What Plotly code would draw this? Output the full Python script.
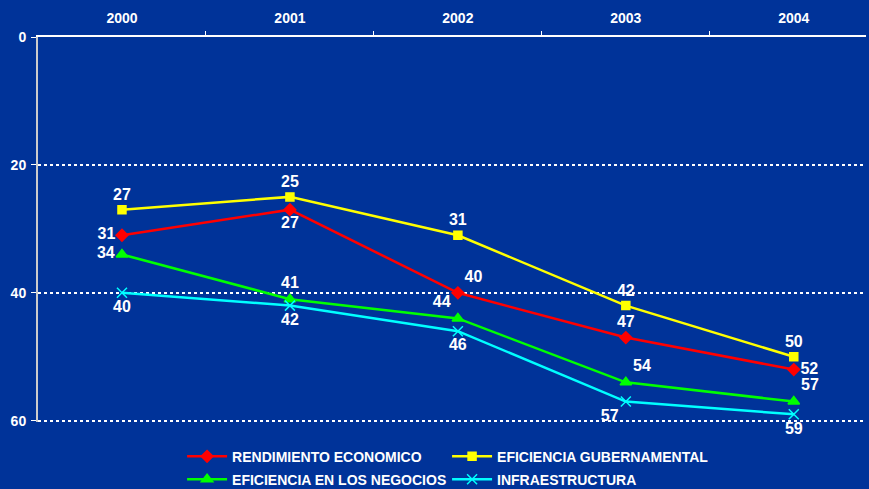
import plotly.graph_objects as go

years = ["2000", "2001", "2002", "2003", "2004"]
rendimiento = [31, 27, 40, 47, 52]
gubernamental = [27, 25, 31, 42, 50]
negocios = [34, 41, 44, 54, 57]
infraestructura = [40, 42, 46, 57, 59]
y_ticks = [0, 20, 40, 60]

xs = list(range(len(years)))
BG = "#003399"
FAM = "Liberation Sans, Arial, sans-serif"
FONT = dict(family=FAM, color="white", size=16, weight="bold")

fig = go.Figure()

def add(name, vals, color, symbol, msize, positions, legend, lw=2.5):
    fig.add_trace(go.Scatter(
        x=xs, y=vals, name=name, mode="lines+markers+text",
        line=dict(color=color, width=lw),
        marker=dict(symbol=symbol, size=msize, color=color, line=dict(color=color, width=1.5)),
        text=[str(v) for v in vals], textposition=positions,
        textfont=FONT, cliponaxis=False, legend=legend,
    ))

add("RENDIMIENTO ECONOMICO", rendimiento, "#FF0000", "diamond", 9,
    ["middle left", "bottom center", "top right", "top center", "middle right"], "legend")
add("EFICIENCIA GUBERNAMENTAL", gubernamental, "#FFFF00", "square", 8,
    ["top center", "top center", "top center", "top center", "top center"], "legend")
add("EFICIENCIA EN LOS NEGOCIOS", negocios, "#00FF00", "triangle-up", 10,
    ["middle left", "top center", "top left", "top right", "top right"], "legend2")
add("INFRAESTRUCTURA", infraestructura, "#00FFFF", "x-thin-open", 10,
    ["bottom center", "bottom center", "bottom center", "bottom left", "bottom center"], "legend2")

leg_common = dict(
    orientation="h", x=0.174, xanchor="left", yref="container", yanchor="middle",
    font=dict(family=FAM, color="white", size=14, weight="bold"),
    entrywidth=210, entrywidthmode="pixels",
    bgcolor="rgba(0,0,0,0)", itemwidth=40,
)

fig.update_layout(
    width=869, height=489,
    paper_bgcolor=BG, plot_bgcolor=BG,
    margin=dict(l=38, r=3, t=37, b=67, autoexpand=False),
    showlegend=True,
    legend=dict(**leg_common, y=0.066),
    legend2=dict(**leg_common, y=0.019),
    font=dict(family=FAM, color="white"),
)

fig.update_xaxes(
    side="top", range=[-0.5, 4.43],
    tickmode="array", tickvals=xs, ticktext=years,
    ticks="", showgrid=False, zeroline=False,
    showline=True, linecolor="white", linewidth=2,
    ticklabelstandoff=6,
    tickfont=dict(family=FAM, color="white", size=14, weight="bold"),
    minor=dict(tickmode="array", tickvals=[0.5, 1.5, 2.5, 3.5], ticks="outside", ticklen=4,
               tickcolor="white", tickwidth=1, showgrid=False),
)

fig.update_yaxes(
    range=[60.2, 0], tickmode="array", tickvals=y_ticks,
    ticks="outside", ticklen=5, tickcolor="white", tickwidth=1,
    showgrid=True, gridcolor="white", griddash="dot", gridwidth=2,
    zeroline=False, showline=True, linecolor="#CCCCCC", linewidth=2,
    ticklabelstandoff=2,
    tickfont=dict(family=FAM, color="white", size=14, weight="bold"),
)

fig.write_html("out.html", config={"displayModeBar": False},
               post_script="document.body.style.margin='0';document.body.style.background='#003399';")
